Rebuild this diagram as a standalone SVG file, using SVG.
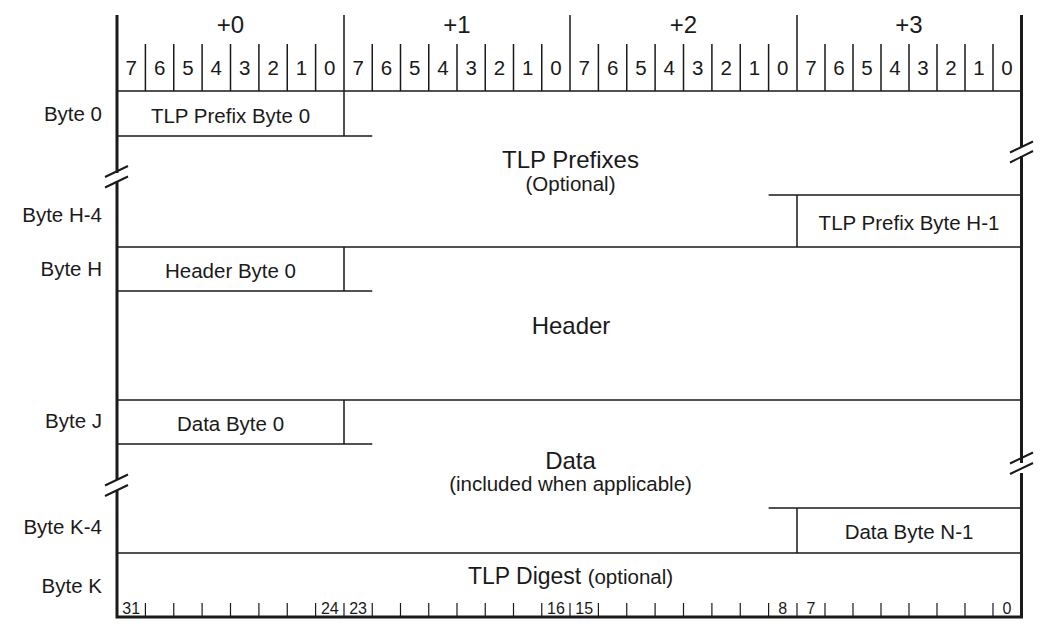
<svg xmlns="http://www.w3.org/2000/svg" width="1042" height="626" viewBox="0 0 1042 626">
<style>
text{font-family:"Liberation Sans",Arial,sans-serif;fill:#1a1a1a}
.t20{font-size:20.5px}
.t24{font-size:24px}
.t16{font-size:16px}
.m{text-anchor:middle}
.e{text-anchor:end}
.ln{stroke:#1a1a1a;stroke-width:1.5;fill:none}
.bd{stroke:#1a1a1a;stroke-width:3;fill:none}
.tk{stroke:#1a1a1a;stroke-width:1.2;fill:none}
.brk{stroke:#1a1a1a;stroke-width:2;fill:none}
</style>
<rect width="1042" height="626" fill="#fff"/>

<g id="bit-header">
  <path class="ln" d="M344 15V91M570 15V91M797 15V91"/>
  <path class="ln" d="M145.4 44V91M173.75 44V91M202.1 44V91M230.5 44V91M258.9 44V91M287.25 44V91M315.6 44V91
    M372.25 44V91M400.5 44V91M428.75 44V91M457 44V91M485.25 44V91M513.5 44V91M541.75 44V91
    M598.4 44V91M626.75 44V91M655.1 44V91M683.5 44V91M711.9 44V91M740.25 44V91M768.6 44V91
    M825 44V91M853 44V91M881 44V91M909 44V91M937 44V91M965 44V91M993 44V91"/>
  <text class="t24 m" x="230.5" y="33">+0</text>
  <text class="t24 m" x="457" y="33">+1</text>
  <text class="t24 m" x="683.5" y="33">+2</text>
  <text class="t24 m" x="909" y="33">+3</text>
  <g class="t20 m">
    <text x="131.2" y="75">7</text><text x="159.6" y="75">6</text><text x="187.9" y="75">5</text><text x="216.3" y="75">4</text>
    <text x="244.7" y="75">3</text><text x="273.1" y="75">2</text><text x="301.4" y="75">1</text><text x="329.8" y="75">0</text>
    <text x="358.1" y="75">7</text><text x="386.4" y="75">6</text><text x="414.6" y="75">5</text><text x="442.9" y="75">4</text>
    <text x="471.1" y="75">3</text><text x="499.4" y="75">2</text><text x="527.6" y="75">1</text><text x="555.9" y="75">0</text>
    <text x="584.2" y="75">7</text><text x="612.6" y="75">6</text><text x="640.9" y="75">5</text><text x="669.3" y="75">4</text>
    <text x="697.7" y="75">3</text><text x="726.1" y="75">2</text><text x="754.4" y="75">1</text><text x="782.8" y="75">0</text>
    <text x="811" y="75">7</text><text x="839" y="75">6</text><text x="867" y="75">5</text><text x="895" y="75">4</text>
    <text x="923" y="75">3</text><text x="951" y="75">2</text><text x="979" y="75">1</text><text x="1007" y="75">0</text>
  </g>
</g>

<g id="row-lines">
  <path class="ln" d="M117 91H1021M117 247H1021M117 400H1021M117 553H1021"/>
  <path class="ln" d="M117 136H372.25M768.6 195H1021M117 291H372.25M117 444H372.25M768.6 508H1021"/>
  <path class="ln" d="M344 91V136M797 195V247M344 247V291M344 400V444M797 508V553"/>
</g>

<g id="byte-labels" class="t20 e">
  <text x="102" y="121">Byte 0</text>
  <text x="102" y="222">Byte H-4</text>
  <text x="102" y="276">Byte H</text>
  <text x="102" y="428">Byte J</text>
  <text x="102" y="534">Byte K-4</text>
  <text x="102" y="593">Byte K</text>
</g>

<g id="tlp-prefix-byte-0"><text class="t20 m" x="230.5" y="123">TLP Prefix Byte 0</text></g>
<g id="tlp-prefixes">
  <text class="t24 m" x="570.5" y="168">TLP Prefixes</text>
  <text class="t20 m" x="570.5" y="191">(Optional)</text>
</g>
<g id="tlp-prefix-byte-h-1"><text class="t20 m" x="909" y="230">TLP Prefix Byte H-1</text></g>
<g id="header-byte-0"><text class="t20 m" x="230.5" y="278">Header Byte 0</text></g>
<g id="header"><text class="t24 m" x="571" y="334">Header</text></g>
<g id="data-byte-0"><text class="t20 m" x="230.5" y="431">Data Byte 0</text></g>
<g id="data">
  <text class="t24 m" x="570.5" y="469">Data</text>
  <text class="t20 m" x="570.5" y="491">(included when applicable)</text>
</g>
<g id="data-byte-n-1"><text class="t20 m" x="909" y="539">Data Byte N-1</text></g>
<g id="tlp-digest">
  <text class="m" x="570.5" y="584"><tspan style="font-size:23px">TLP Digest </tspan><tspan class="t20">(optional)</tspan></text>
</g>

<g id="bit-ruler">
  <path class="tk" d="M145.4 603V617M173.75 603V617M202.1 603V617M230.5 603V617M258.9 603V617M287.25 603V617M315.6 603V617M344 603V617
    M372.25 603V617M400.5 603V617M428.75 603V617M457 603V617M485.25 603V617M513.5 603V617M541.75 603V617M570 603V617
    M598.4 603V617M626.75 603V617M655.1 603V617M683.5 603V617M711.9 603V617M740.25 603V617M768.6 603V617M797 603V617
    M825 603V617M853 603V617M881 603V617M909 603V617M937 603V617M965 603V617M993 603V617"/>
  <g class="t16 m">
    <text x="131.2" y="614">31</text><text x="329.8" y="614">24</text><text x="358.1" y="614">23</text>
    <text x="555.9" y="614">16</text><text x="584.2" y="614">15</text><text x="782.8" y="614">8</text>
    <text x="811" y="614">7</text><text x="1007" y="614">0</text>
  </g>
</g>

<g id="frame">
  <path class="bd" d="M117 15V173M117 181V480M117 490V617H1021.5V473M1021.5 463V156M1021.5 147V15"/>
</g>

<g id="breaks">
  <path class="brk" d="M105 177L128 166M105 187.5L128 176.5"/>
  <path class="brk" d="M1010 152.5L1033 141.5M1010 162.5L1033 151"/>
  <path class="brk" d="M105 485.5L128 474.5M105 496L128 485"/>
  <path class="brk" d="M1010 463.5L1033 452.5M1010 474L1033 463"/>
</g>
</svg>
